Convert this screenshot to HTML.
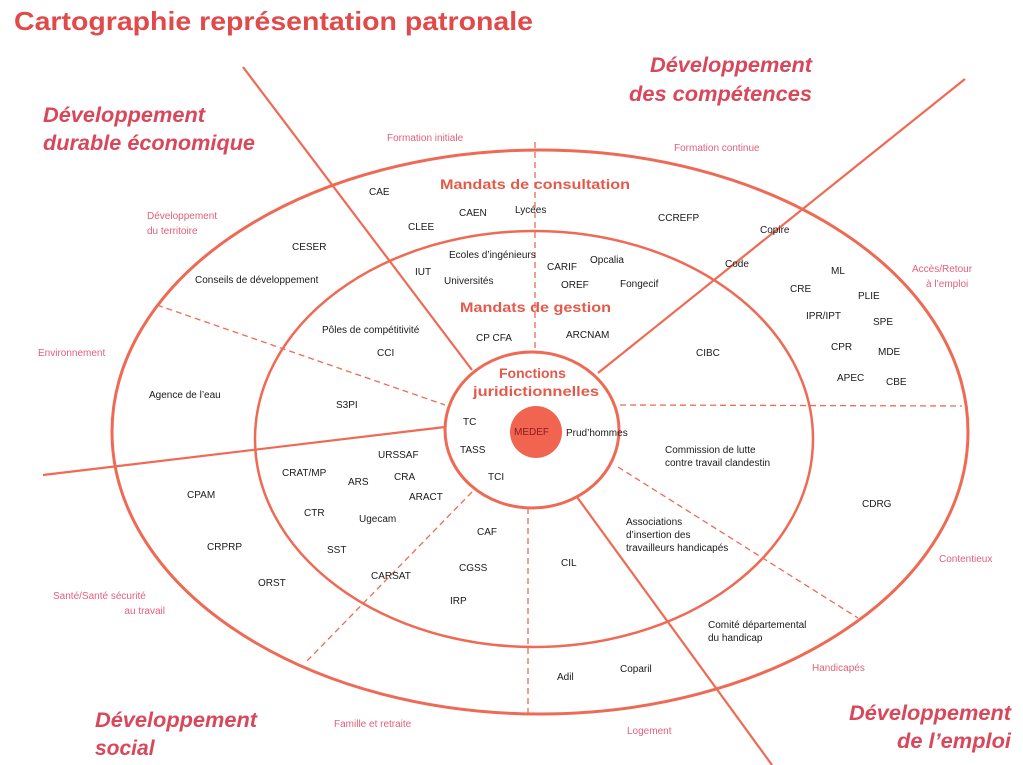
<!DOCTYPE html>
<html><head><meta charset="utf-8"><style>
html,body{margin:0;padding:0;background:#fff;}
svg{display:block;}
.b{font-family:"Liberation Sans",sans-serif;font-size:10px;fill:#1a1a1a;}
.p{font-family:"Liberation Sans",sans-serif;font-size:10px;fill:#e2607a;}
.h{font-family:"Liberation Sans",sans-serif;font-size:21px;font-weight:bold;font-style:italic;fill:#d9475a;}
.m{font-family:"Liberation Sans",sans-serif;font-size:14px;font-weight:bold;fill:#e45a4a;}
</style></head><body>
<svg width="1023" height="765" viewBox="0 0 1023 765" xmlns="http://www.w3.org/2000/svg">
<rect width="1023" height="765" fill="#fff"/>
<g fill="none" stroke="#ef6a55">
<ellipse cx="540" cy="432" rx="428" ry="282" stroke-width="3"/>
<ellipse cx="534" cy="439" rx="279" ry="208" stroke-width="2.5"/>
<line x1="243" y1="67" x2="472" y2="370" stroke-width="2.2"/>
<line x1="43" y1="475" x2="445" y2="427" stroke-width="2.2"/>
<line x1="598" y1="373" x2="965" y2="79" stroke-width="2.2"/>
<line x1="577" y1="497" x2="772" y2="765" stroke-width="2.2"/>
<g stroke-width="1.3" stroke-dasharray="6,4">
<line x1="535" y1="142" x2="535" y2="352"/>
<line x1="157" y1="305" x2="445" y2="405"/>
<line x1="620" y1="405" x2="962" y2="406"/>
<line x1="618" y1="467" x2="858" y2="618"/>
<line x1="472" y1="492" x2="305" y2="663"/>
<line x1="528" y1="508" x2="528" y2="713"/>
</g>
<ellipse cx="532" cy="430" rx="87" ry="78" fill="#fff" stroke-width="3"/>
</g>
<circle cx="536" cy="432" r="26" fill="#f06450"/>
<text x="14" y="30" font-family="Liberation Sans,sans-serif" font-size="26" font-weight="bold" fill="#e04a4a" textLength="519" lengthAdjust="spacingAndGlyphs">Cartographie représentation patronale</text>
<text class="h" x="43" y="122" textLength="162" lengthAdjust="spacingAndGlyphs">Développement</text>
<text class="h" x="43" y="150" textLength="212" lengthAdjust="spacingAndGlyphs">durable économique</text>
<text class="h" x="650" y="72" textLength="162" lengthAdjust="spacingAndGlyphs">Développement</text>
<text class="h" x="629" y="101" textLength="183" lengthAdjust="spacingAndGlyphs">des compétences</text>
<text class="h" x="95" y="727" textLength="162" lengthAdjust="spacingAndGlyphs">Développement</text>
<text class="h" x="95" y="755">social</text>
<text class="h" x="849" y="720" textLength="162" lengthAdjust="spacingAndGlyphs">Développement</text>
<text class="h" x="897" y="748" textLength="114" lengthAdjust="spacingAndGlyphs">de l’emploi</text>
<text class="p" x="387" y="141">Formation initiale</text>
<text class="p" x="674" y="151">Formation continue</text>
<text class="p" x="147" y="219">Développement</text>
<text class="p" x="147" y="234">du territoire</text>
<text class="p" x="38" y="356">Environnement</text>
<text class="p" x="912" y="272">Accès/Retour</text>
<text class="p" x="926" y="287">à l’emploi</text>
<text class="p" x="939" y="562">Contentieux</text>
<text class="p" x="812" y="671">Handicapés</text>
<text class="p" x="627" y="734">Logement</text>
<text class="p" x="334" y="727">Famille et retraite</text>
<text class="p" x="53" y="599">Santé/Santé sécurité</text>
<text class="p" x="165" y="614" text-anchor="end">au travail</text>
<text class="m" x="440" y="189" textLength="190" lengthAdjust="spacingAndGlyphs">Mandats de consultation</text>
<text class="m" x="460" y="312" textLength="151" lengthAdjust="spacingAndGlyphs">Mandats de gestion</text>
<text class="m" x="499" y="378">Fonctions</text>
<text class="m" x="473" y="396" textLength="126" lengthAdjust="spacingAndGlyphs">juridictionnelles</text>
<g class="b">
<text class="b" x="369" y="195">CAE</text>
<text class="b" x="459" y="216">CAEN</text>
<text class="b" x="515" y="213">Lycées</text>
<text class="b" x="408" y="230">CLEE</text>
<text class="b" x="658" y="221">CCREFP</text>
<text class="b" x="760" y="233">Copire</text>
<text class="b" x="292" y="250">CESER</text>
<text class="b" x="195" y="283">Conseils de développement</text>
<text class="b" x="449" y="258">Ecoles d’ingénieurs</text>
<text class="b" x="415" y="275">IUT</text>
<text class="b" x="444" y="284">Universités</text>
<text class="b" x="547" y="270">CARIF</text>
<text class="b" x="590" y="263">Opcalia</text>
<text class="b" x="561" y="288">OREF</text>
<text class="b" x="620" y="287">Fongecif</text>
<text class="b" x="725" y="267">Code</text>
<text class="b" x="831" y="274">ML</text>
<text class="b" x="790" y="292">CRE</text>
<text class="b" x="858" y="299">PLIE</text>
<text class="b" x="806" y="319">IPR/IPT</text>
<text class="b" x="873" y="325">SPE</text>
<text class="b" x="831" y="350">CPR</text>
<text class="b" x="878" y="355">MDE</text>
<text class="b" x="837" y="381">APEC</text>
<text class="b" x="886" y="385">CBE</text>
<text class="b" x="696" y="356">CIBC</text>
<text class="b" x="322" y="333">Pôles de compétitivité</text>
<text class="b" x="377" y="356">CCI</text>
<text class="b" x="476" y="341">CP CFA</text>
<text class="b" x="566" y="338">ARCNAM</text>
<text class="b" x="149" y="398">Agence de l’eau</text>
<text class="b" x="336" y="408">S3PI</text>
<text class="b" x="463" y="425">TC</text>
<text class="b" x="460" y="453">TASS</text>
<text class="b" x="488" y="480">TCI</text>
<text x="514" y="435" font-family="Liberation Sans,sans-serif" font-size="10" fill="#8a1c1c">MEDEF</text>
<text class="b" x="566" y="436">Prud’hommes</text>
<text class="b" x="665" y="453">Commission de lutte</text>
<text class="b" x="665" y="466">contre travail clandestin</text>
<text class="b" x="378" y="458">URSSAF</text>
<text class="b" x="282" y="476">CRAT/MP</text>
<text class="b" x="394" y="480">CRA</text>
<text class="b" x="348" y="485">ARS</text>
<text class="b" x="409" y="500">ARACT</text>
<text class="b" x="187" y="498">CPAM</text>
<text class="b" x="304" y="516">CTR</text>
<text class="b" x="359" y="522">Ugecam</text>
<text class="b" x="477" y="535">CAF</text>
<text class="b" x="626" y="525">Associations</text>
<text class="b" x="626" y="538">d’insertion des</text>
<text class="b" x="626" y="551">travailleurs handicapés</text>
<text class="b" x="862" y="507">CDRG</text>
<text class="b" x="207" y="550">CRPRP</text>
<text class="b" x="327" y="553">SST</text>
<text class="b" x="561" y="566">CIL</text>
<text class="b" x="371" y="579">CARSAT</text>
<text class="b" x="459" y="571">CGSS</text>
<text class="b" x="258" y="586">ORST</text>
<text class="b" x="450" y="604">IRP</text>
<text class="b" x="708" y="628">Comité départemental</text>
<text class="b" x="708" y="641">du handicap</text>
<text class="b" x="620" y="672">Coparil</text>
<text class="b" x="557" y="680">Adil</text>
</g>
</svg>
</body></html>
